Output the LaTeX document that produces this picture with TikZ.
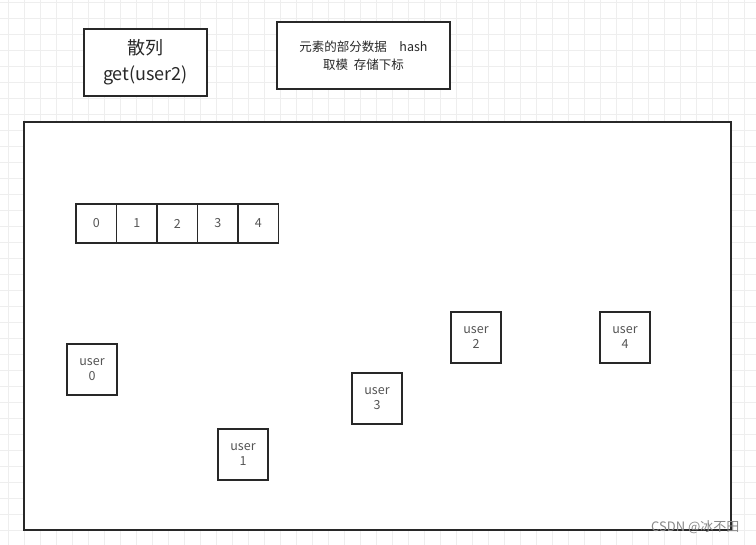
\documentclass[tikz,border=0pt]{standalone}
\usepackage{fontspec}
\setmainfont{Noto Sans CJK SC}
\usepackage{xcolor}
\definecolor{gridgray}{RGB}{238,238,238}
\definecolor{textgray}{RGB}{85,85,85}
\definecolor{edgegray}{RGB}{40,40,40}
\tikzset{
  box/.style={draw=edgegray,line width=1.8pt,fill=white,inner sep=0pt},
  userbox/.style={box,minimum width=50pt,minimum height=51pt,align=center,
    font=\fontsize{12.5}{15}\selectfont,text=textgray},
  cellbox/.style={box,minimum width=40.5pt,minimum height=39pt,
    font=\fontsize{12.5}{14}\selectfont,text=textgray}
}
\begin{document}
\begin{tikzpicture}[x=1pt,y=-1pt]
  \useasboundingbox (0,0) rectangle (756,545);
  \fill[white] (0,0) rectangle (756,545);
  \foreach \gx in {8,24,...,756}
    \draw[gridgray,line width=0.8pt] (\gx,0) -- (\gx,545);
  \foreach \gy in {2,18,...,545}
    \draw[gridgray,line width=0.8pt] (0,\gy) -- (756,\gy);
  % top boxes
  \node[box,minimum width=123pt,minimum height=67pt,align=center,
    font=\fontsize{18}{26}\selectfont,text=edgegray](title) at(145.5,62.5){散列\\get(user2)};
  \node[box,minimum width=173pt,minimum height=67pt,align=center,
    font=\fontsize{12.5}{18}\selectfont,text=edgegray](info) at(363.5,55.5){元素的部分数据\quad hash\\取模\ \ 存储下标};
  % hash table area
  \node[box,minimum width=707pt,minimum height=408pt](table) at(377.5,326){};
  \foreach \i in {0,...,4}
    \node[cellbox](c\i) at(96.25+40.5*\i,223.5){\i};
  % stored entries
  \node[userbox](u0) at(92,369.5){user\\0};
  \node[userbox](u1) at(243,454.5){user\\1};
  \node[userbox](u2) at(476,337.5){user\\2};
  \node[userbox](u3) at(377,398.5){user\\3};
  \node[userbox](u4) at(625,337.5){user\\4};
  \node[font=\fontsize{13}{15}\selectfont,text=textgray!70,anchor=east](mark) at(743,527){CSDN @冰不田};
\end{tikzpicture}
\end{document}
